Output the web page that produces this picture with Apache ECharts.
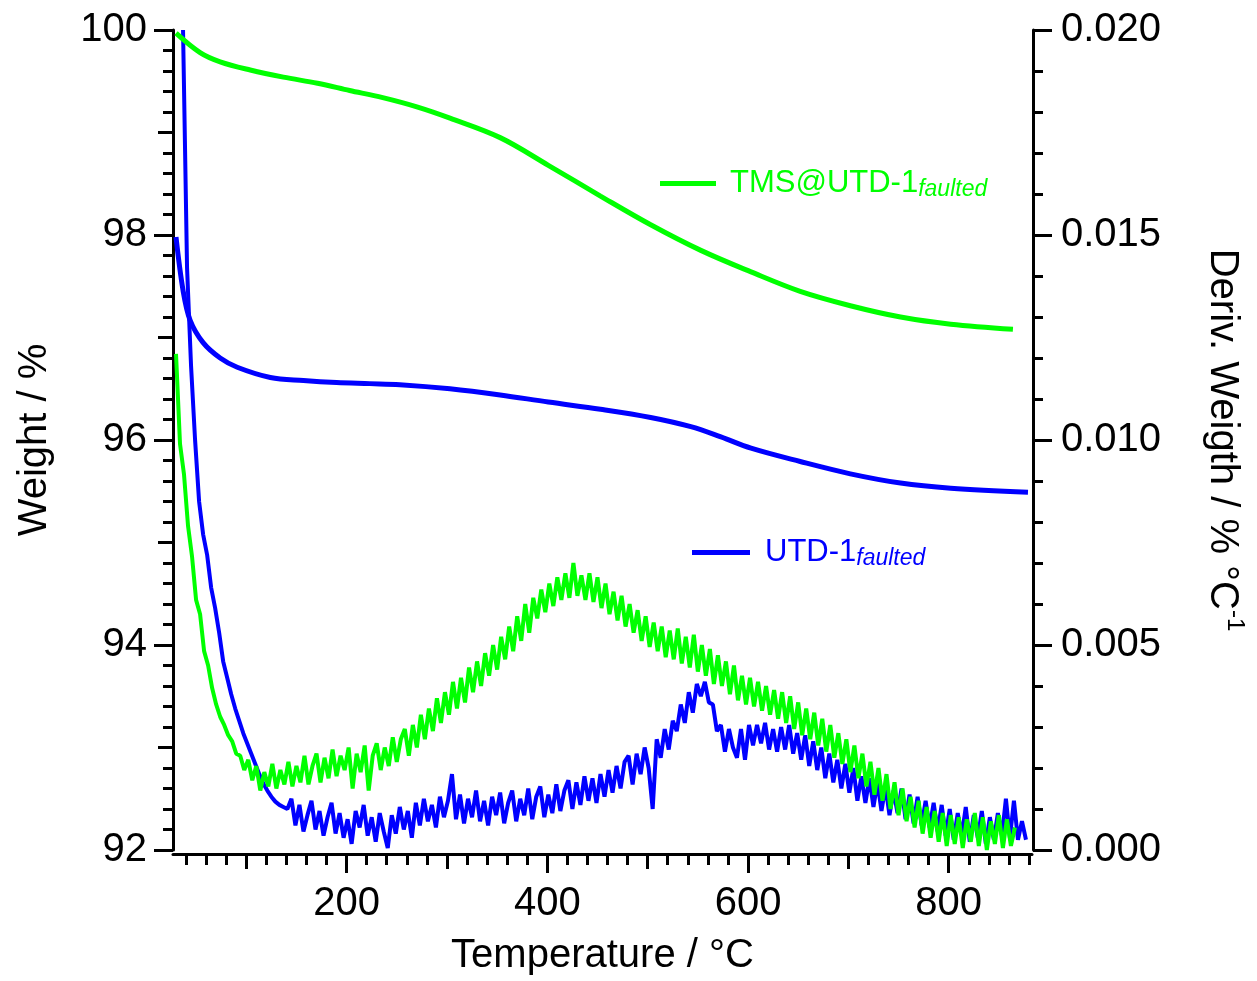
<!DOCTYPE html>
<html>
<head>
<meta charset="utf-8">
<script src="https://cdn.jsdelivr.net/npm/echarts@6/dist/echarts.min.js"></script>
<style>
  html, body { margin: 0; padding: 0; background: #fff; }
  #chart { width: 1257px; height: 981px; }
</style>
</head>
<body>
<div id="chart"></div>
<script>
// ---------- DATA ----------
const seriesNames = ['TMS@UTD-1', 'UTD-1'];
const legendSub = 'faulted';
const xTickValues = [200, 400, 600, 800];
const xMidTickValues = [100, 300, 500, 700];

// TG curves (Weight / %)
const tmsTgTemps = [30, 54, 74, 104, 137, 171, 203, 236, 270, 303, 353, 401, 453, 503, 553, 603, 652, 702, 752, 802, 864];
const tmsTg = [99.97, 99.78, 99.69, 99.61, 99.54, 99.48, 99.41, 99.34, 99.25, 99.14, 98.95, 98.68, 98.38, 98.10, 97.85, 97.64, 97.45, 97.31, 97.20, 97.13, 97.08];

const utdTgTemps = [30, 37, 44, 57, 74, 91, 124, 157, 190, 223, 253, 303, 353, 401, 453, 503, 543, 573, 603, 652, 702, 752, 802, 879];
const utdTg = [97.98, 97.46, 97.17, 96.95, 96.80, 96.71, 96.61, 96.58, 96.56, 96.55, 96.54, 96.50, 96.44, 96.37, 96.30, 96.22, 96.13, 96.03, 95.92, 95.79, 95.67, 95.58, 95.53, 95.49];

// DTG curves (Deriv. weight, in 10^-3 % / °C), sampled every 4 °C
const dtgStep = 4;
const utdDtgStart = 37;
const utdDtgMilli = [
  20.0, 14.2, 11.8, 10.0, 8.5, 7.7, 7.2, 6.4, 5.9, 5.3, 4.6, 4.2, 3.8, 3.45, 3.15, 2.85, 2.6, 2.35, 2.1, 1.85,
  1.62, 1.45, 1.3, 1.18, 1.1, 1.05, 1.0,
  1.25, 0.60, 1.10, 0.45, 0.85, 1.20, 0.50, 0.95, 0.35, 0.80, 1.15, 0.40, 0.90, 0.30, 0.75, 0.15, 0.95, 0.55, 1.10, 0.35,
  0.80, 0.20, 0.90, 0.45, 0.05, 0.85, 0.40, 1.05, 0.50, 0.95, 0.30, 1.15, 0.60, 1.25, 0.70, 1.10, 0.55, 1.30, 0.80, 1.20,
  1.85, 0.75, 1.35, 0.65, 1.25, 0.80, 1.45, 0.70, 1.20, 0.60, 1.30, 0.85, 1.40, 0.65, 1.15, 1.45, 0.70, 1.25, 0.85, 1.50,
  0.75, 1.30, 1.55, 0.80, 1.35, 0.90, 1.60, 0.95, 1.45, 1.70, 1.00, 1.65, 1.10, 1.80, 1.20, 1.75, 1.15, 1.85, 1.30, 1.95,
  1.40, 2.05, 1.50, 2.15, 2.30, 1.60, 2.35, 1.85, 2.50, 2.00, 1.00, 2.70, 2.25, 2.95, 2.45, 3.15, 2.90, 3.55, 3.10, 3.85,
  3.35, 4.05, 3.75, 4.10, 3.60, 3.55, 2.90, 3.05, 2.40, 2.95, 2.50, 2.25, 2.95, 2.20, 3.05, 2.55, 3.05, 2.60, 3.10, 2.45,
  2.95, 2.40, 3.00, 2.45, 3.05, 2.35, 2.85, 2.20, 2.80, 2.05, 2.65, 1.95, 2.50, 1.75, 2.35, 1.65, 2.20, 1.50, 2.10, 1.40,
  2.00, 1.20, 1.80, 1.15, 1.75, 1.05, 1.65, 0.95, 1.55, 0.85, 1.45, 0.90, 1.50, 0.75, 1.35, 0.65, 1.30, 0.60, 1.20, 0.55,
  1.15, 0.45, 1.10, 0.35, 1.00, 0.25, 0.90, 0.35, 1.05, 0.20, 0.85, 0.30, 0.95, 0.15, 0.80, 0.25, 0.90, 0.35, 1.25, 0.30,
  1.20, 0.25, 0.70, 0.25
];
const tmsDtgStart = 30;
const tmsDtgMilli = [
  12.10, 9.90, 9.15, 7.90, 7.15, 6.10, 5.75, 4.85, 4.50, 3.95, 3.55, 3.25, 3.05, 2.80, 2.65, 2.35, 2.30, 1.95,
  2.20, 1.70, 2.05, 1.45, 1.90, 1.55, 2.10, 1.50, 1.95, 1.60, 2.15, 1.55, 2.05, 1.65, 2.30, 1.60, 2.05, 2.35, 1.65, 2.25,
  1.75, 2.45, 1.80, 2.30, 1.95, 2.50, 1.50, 2.35, 1.90, 2.55, 1.45, 2.30, 2.60, 1.95, 2.50, 2.05, 2.75, 2.15, 2.70, 2.95,
  2.30, 3.05, 2.50, 3.30, 2.70, 3.45, 2.90, 3.70, 3.10, 3.85, 3.30, 4.10, 3.45, 4.20, 3.60, 4.45, 3.85, 4.60, 4.00, 4.80,
  4.25, 5.00, 4.40, 5.20, 4.65, 5.45, 4.85, 5.70, 5.10, 6.00, 5.30, 6.15, 5.65, 6.35, 5.80, 6.50, 5.95, 6.65, 6.10, 6.75,
  6.15, 7.00, 6.20, 6.70, 6.10, 6.75, 6.05, 6.65, 5.90, 6.50, 5.75, 6.30, 5.60, 6.20, 5.45, 6.00, 5.30, 5.85, 5.10, 5.70,
  4.95, 5.55, 4.85, 5.45, 4.70, 5.35, 4.65, 5.40, 4.55, 5.20, 4.45, 5.25, 4.35, 5.00, 4.25, 4.90, 4.05, 4.75, 4.00, 4.60,
  3.80, 4.50, 3.65, 4.25, 3.55, 4.20, 3.50, 4.10, 3.40, 4.00, 3.30, 3.90, 3.20, 3.85, 3.10, 3.75, 2.95, 3.60, 2.80, 3.45,
  2.70, 3.35, 2.55, 3.20, 2.40, 3.05, 2.25, 2.85, 2.10, 2.70, 1.90, 2.55, 1.75, 2.35, 1.55, 2.15, 1.35, 2.00, 1.20, 1.85,
  1.00, 1.65, 0.85, 1.50, 0.70, 1.30, 0.55, 1.20, 0.40, 1.05, 0.30, 0.95, 0.20, 0.90, 0.10, 0.85, 0.15, 0.80, 0.05, 0.75,
  0.20, 0.90, 0.10, 0.80, 0.00, 0.70, 0.15, 0.85, 0.05, 0.75, 0.10, 0.55
];

// ---------- BUILD ----------
const GREEN = '#00ff00';
const BLUE = '#0000ff';
const FONT = 'Liberation Sans, Arial, Helvetica, sans-serif';

const pairs = (xs, ys) => ys.map((y, i) => [xs[i], y]);
const gridPairs = (start, step, ys) => ys.map((y, i) => [start + i * step, y]);

const axisLineStyle = { color: '#000', width: 3 };
const tickStyle = { color: '#000', width: 3 };

const chart = echarts.init(document.getElementById('chart'), null, { renderer: 'canvas' });

const option = {
  animation: false,
  backgroundColor: '#fff',
  textStyle: { fontFamily: FONT },
  grid: { left: 173, right: 225, top: 30, bottom: 131, containLabel: false },
  legend: [
    {
      data: [seriesNames[0]],
      left: 655, top: 163,
      icon: 'rect', itemWidth: 56, itemHeight: 5,
      selectedMode: false, padding: 5,
      formatter: '{m|' + seriesNames[0] + '}{s|' + legendSub + '}',
      textStyle: {
        fontFamily: FONT,
        rich: {
          m: { fontSize: 31, color: GREEN, lineHeight: 36, padding: [0, 0, 0, 9], fontFamily: FONT },
          s: { fontSize: 23, color: GREEN, fontStyle: 'italic', verticalAlign: 'bottom', lineHeight: 22, fontFamily: FONT }
        }
      }
    },
    {
      data: [seriesNames[1]],
      left: 687, top: 532,
      icon: 'rect', itemWidth: 58, itemHeight: 5,
      selectedMode: false, padding: 5,
      formatter: '{m|' + seriesNames[1] + '}{s|' + legendSub + '}',
      textStyle: {
        fontFamily: FONT,
        rich: {
          m: { fontSize: 31, color: BLUE, lineHeight: 36, padding: [0, 0, 0, 10], fontFamily: FONT },
          s: { fontSize: 23, color: BLUE, fontStyle: 'italic', verticalAlign: 'bottom', lineHeight: 22, fontFamily: FONT }
        }
      }
    }
  ],
  xAxis: [
    {
      type: 'value', min: 27, max: 883, position: 'bottom', offset: 4,
      axisLine: { show: true, onZero: false, lineStyle: axisLineStyle },
      axisTick: { show: true, length: 19, lineStyle: tickStyle, customValues: xTickValues },
      minorTick: { show: true, splitNumber: 10, length: 11, lineStyle: tickStyle },
      axisLabel: { fontSize: 40, color: '#000', margin: 30, customValues: xTickValues, fontFamily: FONT },
      splitLine: { show: false },
      name: 'Temperature / °C', nameLocation: 'middle', nameGap: 82,
      nameTextStyle: { fontSize: 40, color: '#000', fontFamily: FONT }
    },
    {
      type: 'value', min: 27, max: 883, position: 'bottom', offset: 4,
      axisLine: { show: false, onZero: false },
      axisTick: { show: true, length: 15, lineStyle: tickStyle, customValues: xMidTickValues },
      axisLabel: { show: false },
      splitLine: { show: false }
    }
  ],
  yAxis: [
    {
      type: 'value', position: 'left', min: 92, max: 100, interval: 2,
      axisLine: { show: true, onZero: false, lineStyle: axisLineStyle },
      axisTick: { show: true, length: 19, lineStyle: tickStyle },
      minorTick: { show: true, splitNumber: 10, length: 10, lineStyle: tickStyle },
      axisLabel: { fontSize: 40, color: '#000', margin: 26, fontFamily: FONT },
      splitLine: { show: false },
      name: 'Weight / %', nameLocation: 'middle', nameGap: 118, nameRotate: 90,
      nameTextStyle: { fontSize: 40, color: '#000', fontFamily: FONT }
    },
    {
      type: 'value', position: 'right', min: 0, max: 20, interval: 5, offset: 1,
      axisLine: { show: true, onZero: false, lineStyle: axisLineStyle },
      axisTick: { show: true, length: 19, lineStyle: tickStyle },
      minorTick: { show: true, splitNumber: 5, length: 10, lineStyle: tickStyle },
      axisLabel: { fontSize: 40, color: '#000', margin: 28, fontFamily: FONT,
                   formatter: v => (v / 1000).toFixed(3) },
      splitLine: { show: false },
      name: '{t|Deriv. Weigth / % °C}{u|-1}', nameLocation: 'middle', nameGap: 164, nameRotate: -90,
      nameTextStyle: {
        fontSize: 40, color: '#000', fontFamily: FONT,
        rich: {
          t: { fontSize: 40, color: '#000', lineHeight: 50, fontFamily: FONT },
          u: { fontSize: 24, color: '#000', lineHeight: 16, verticalAlign: 'top', fontFamily: FONT }
        }
      }
    },
    {
      type: 'value', position: 'left', min: 92, max: 100, interval: 1,
      axisLine: { show: false, onZero: false },
      axisTick: { show: true, length: 15, lineStyle: tickStyle },
      axisLabel: { show: false },
      splitLine: { show: false }
    }
  ],
  series: [
    {
      name: seriesNames[1] + ' DTG', type: 'line', xAxisIndex: 0, yAxisIndex: 1,
      data: gridPairs(utdDtgStart, dtgStep, utdDtgMilli),
      showSymbol: false, symbol: 'none', color: BLUE,
      lineStyle: { color: BLUE, width: 4 }
    },
    {
      name: seriesNames[1], type: 'line', xAxisIndex: 0, yAxisIndex: 0,
      data: pairs(utdTgTemps, utdTg),
      showSymbol: false, symbol: 'none', smooth: 0.35, color: BLUE,
      lineStyle: { color: BLUE, width: 5 }
    },
    {
      name: seriesNames[0] + ' DTG', type: 'line', xAxisIndex: 0, yAxisIndex: 1,
      data: gridPairs(tmsDtgStart, dtgStep, tmsDtgMilli),
      showSymbol: false, symbol: 'none', color: GREEN,
      lineStyle: { color: GREEN, width: 4 }
    },
    {
      name: seriesNames[0], type: 'line', xAxisIndex: 0, yAxisIndex: 0,
      data: pairs(tmsTgTemps, tmsTg),
      showSymbol: false, symbol: 'none', smooth: 0.35, color: GREEN,
      lineStyle: { color: GREEN, width: 5 }
    }
  ]
};
chart.setOption(option);
</script>
</body>
</html>
